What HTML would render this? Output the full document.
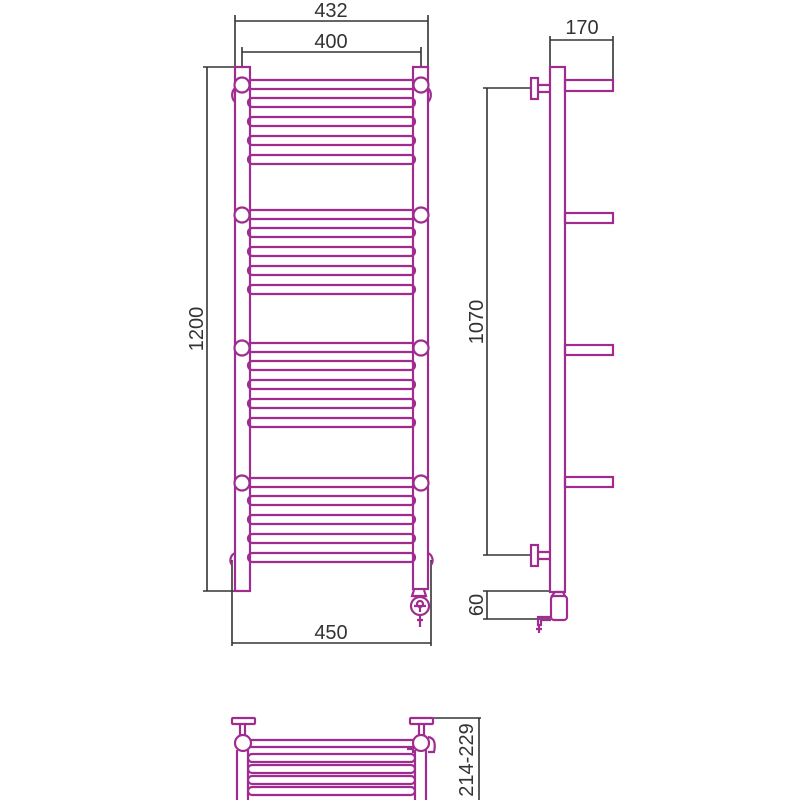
<!DOCTYPE html>
<html><head><meta charset="utf-8"><style>
html,body{margin:0;padding:0;background:#fff;}
svg{display:block}
text{font-family:"Liberation Sans","DejaVu Sans",sans-serif;fill:#333;font-size:20px}
</style></head><body>
<svg width="800" height="800" viewBox="0 0 800 800" xmlns="http://www.w3.org/2000/svg">
<g fill="none" stroke="#333" stroke-width="1.6">
 <path d="M235 21H428M235 15V68M428 15V68"/>
 <path d="M242 52H421M242 47V68M421 47V68"/>
 <path d="M207 67V591M203 67H235M203 591H235"/>
 <path d="M232 643H431M232 560V646M431 560V646"/>
 <path d="M550 40H613M550 36V67M613 36V91"/>
 <path d="M487 88V555M483 88H531M483 555H531"/>
 <path d="M487 591V619M483 591H550M483 619H550"/>
 <path d="M479 718V800M433 718H481"/>
</g>
<text x="331" y="17" text-anchor="middle">432</text>
<text x="331" y="48" text-anchor="middle">400</text>
<text x="331" y="639" text-anchor="middle">450</text>
<text x="582" y="34" text-anchor="middle">170</text>
<text transform="translate(203 329) rotate(-90)" text-anchor="middle">1200</text>
<text transform="translate(483 322) rotate(-90)" text-anchor="middle">1070</text>
<text transform="translate(483 605) rotate(-90)" text-anchor="middle">60</text>
<text transform="translate(473 760) rotate(-90)" text-anchor="middle">214-229</text>

<g fill="none" stroke="#a02c90" stroke-width="2.2">
 <rect x="235" y="67" width="15" height="524"/>
 <rect x="413" y="67" width="15" height="522"/>
 <g id="grp">
  <path d="M250 80H413M250 89H413"/>
  <circle cx="242" cy="85" r="7.5" fill="#fff"/>
  <circle cx="421" cy="85" r="7.5" fill="#fff"/>
  <rect x="248" y="98" width="167" height="9" rx="4.5"/>
  <rect x="248" y="117" width="167" height="9" rx="4.5"/>
  <rect x="248" y="136" width="167" height="9" rx="4.5"/>
  <rect x="248" y="155" width="167" height="9" rx="4.5"/>
 </g>
 <use href="#grp" y="130"/>
 <use href="#grp" y="263"/>
 <use href="#grp" y="398"/>
 <path d="M235 88A10 10 0 0 0 235 102M428 88A10 10 0 0 1 428 102"/>
 <path d="M235 553A8 8 0 0 0 232 565M428 553A8 8 0 0 1 431 565"/>
 <path d="M414 590L412 596H426L424 590"/>
 <circle cx="420" cy="606" r="9"/>
 <circle cx="420" cy="604" r="3"/>
 <path d="M414 606H426M420 606V612M420 615V627M417 620H423"/>

 <rect x="550" y="67" width="15" height="525"/>
 <rect x="565" y="80" width="48" height="11"/>
 <rect x="565" y="213" width="48" height="10"/>
 <rect x="565" y="345" width="48" height="10"/>
 <rect x="565" y="477" width="48" height="10"/>
 <rect x="531" y="78" width="7" height="21"/>
 <path d="M538 85H550M538 92H550"/>
 <rect x="531" y="545" width="7" height="21"/>
 <path d="M538 552H550M538 559H550"/>
 <rect x="551" y="596" width="16" height="24" rx="3"/>
 <path d="M551 597L555 592H563L565 596"/>
 <path d="M551 617H538V625H541V620H551M539 625V633M536 629H542"/>

 <rect x="232" y="718" width="23" height="6" rx="1"/>
 <rect x="410" y="718" width="23" height="6" rx="1"/>
 <path d="M240 724V736M245 724V736M419 724V736M424 724V736"/>
 <path d="M237 750V800M248 750V800M415 750V800M426 750V800"/>
 <path d="M248 740H415M248 747H415"/>
 <rect x="248" y="754" width="167" height="8" rx="4"/>
 <rect x="248" y="765" width="167" height="8" rx="4"/>
 <rect x="248" y="776" width="167" height="8" rx="4"/>
 <rect x="248" y="787" width="167" height="8" rx="4"/>
 <circle cx="243" cy="743" r="8" fill="#fff"/>
 <circle cx="421" cy="743" r="8" fill="#fff"/>
 <path d="M428 737Q437 738 434 752H428M407 749H413V753"/>
</g>
</svg>
</body></html>
